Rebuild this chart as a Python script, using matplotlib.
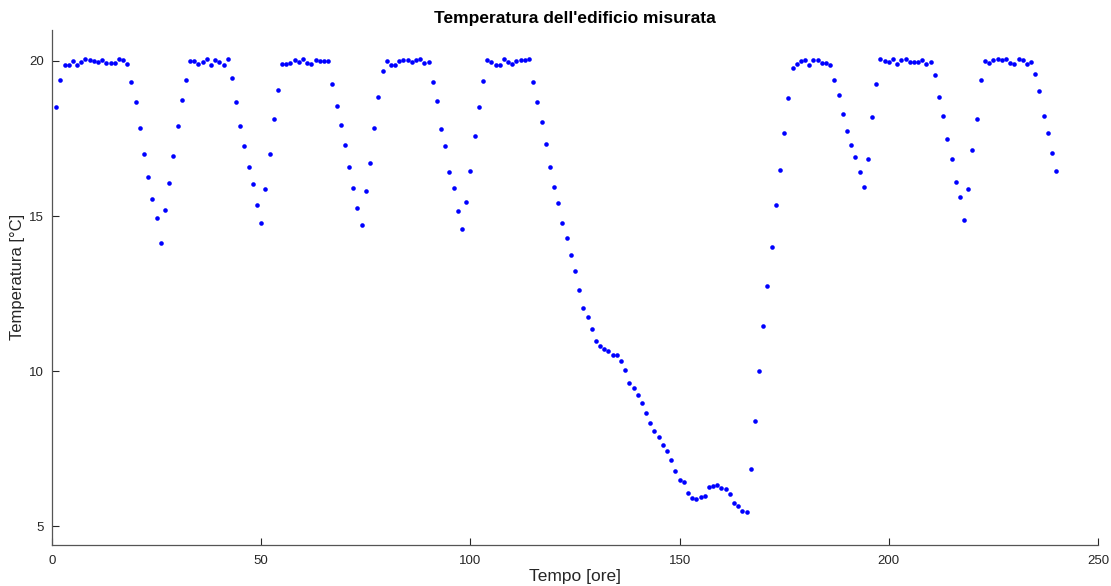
import matplotlib
matplotlib.use('Agg')
import matplotlib.pyplot as plt

# ore di misura (una ogni ora)
ore = list(range(1, 241))

# temperatura misurata [°C]
temperatura = [
    18.52, 19.40, 19.86, 19.86, 20.00, 19.87, 19.97, 20.07, 20.04, 20.00,
    19.97, 20.04, 19.94, 19.94, 19.94, 20.06, 20.04, 19.91, 19.33, 18.66,
    17.83, 16.99, 16.25, 15.54, 14.94, 14.13, 15.19, 16.08, 16.95, 17.91,
    18.74, 19.38, 19.99, 19.99, 19.89, 19.97, 20.07, 19.87, 20.03, 19.96,
    19.87, 20.06, 19.46, 18.66, 17.91, 17.27, 16.57, 16.02, 15.35, 14.77,
    15.88, 16.99, 18.14, 19.07, 19.91, 19.89, 19.94, 20.03, 19.98, 20.05,
    19.94, 19.90, 20.04, 20.01, 20.01, 20.00, 19.27, 18.55, 17.94, 17.29,
    16.57, 15.90, 15.27, 14.71, 15.82, 16.70, 17.85, 18.84, 19.67, 19.99,
    19.87, 19.88, 20.00, 20.02, 20.03, 19.97, 20.02, 20.06, 19.93, 19.97,
    19.33, 18.70, 17.79, 17.25, 16.42, 15.92, 15.15, 14.58, 15.45, 16.44,
    17.59, 18.50, 19.35, 20.04, 19.98, 19.88, 19.88, 20.05, 19.96, 19.91,
    20.00, 20.02, 20.03, 20.05, 19.33, 18.69, 18.02, 17.33, 16.58, 15.95,
    15.42, 14.77, 14.29, 13.76, 13.22, 12.61, 12.04, 11.74, 11.35, 10.96,
    10.82, 10.70, 10.65, 10.52, 10.53, 10.32, 10.05, 9.62, 9.45, 9.24,
    8.96, 8.65, 8.32, 8.07, 7.88, 7.62, 7.43, 7.15, 6.77, 6.51,
    6.42, 6.09, 5.92, 5.89, 5.95, 5.97, 6.26, 6.30, 6.32, 6.24,
    6.20, 6.03, 5.74, 5.67, 5.50, 5.45, 6.86, 8.41, 10.00, 11.47,
    12.74, 13.99, 15.36, 16.50, 17.67, 18.81, 19.78, 19.90, 19.99, 20.02,
    19.88, 20.03, 20.02, 19.94, 19.94, 19.88, 19.37, 18.91, 18.28, 17.74,
    17.28, 16.90, 16.42, 15.93, 16.85, 18.20, 19.27, 20.07, 19.99, 19.96,
    20.05, 19.90, 20.03, 20.07, 19.97, 19.96, 19.96, 20.04, 19.90, 19.96,
    19.54, 18.85, 18.21, 17.47, 16.83, 16.11, 15.61, 14.88, 15.88, 17.12,
    18.12, 19.37, 20.00, 19.94, 20.04, 20.05, 20.02, 20.06, 19.94, 19.89,
    20.07, 20.02, 19.89, 19.96, 19.59, 19.04, 18.24, 17.67, 17.02, 16.45,
]

xticks = [0, 50, 100, 150, 200, 250]
yticks = [5, 10, 15, 20]

plt.rcParams['font.family'] = ['Liberation Sans', 'DejaVu Sans']
grigio = '#262626'

fig = plt.figure(figsize=(11.11, 5.86), dpi=100)
ax = fig.add_axes([0.0468, 0.070, 0.9415, 0.879])

ax.plot(ore, temperatura, 'o', color='blue', ms=3.3, mec='none')

ax.set_xlim(0, 250)
ax.set_ylim(4.4, 21)
ax.set_xticks(xticks)
ax.set_yticks(yticks)
ax.tick_params(direction='in', length=5, width=0.8, colors=grigio,
               labelsize=9.5, labelcolor=grigio, pad=6)
ax.tick_params(axis='x', pad=7)

for s in ['top', 'right']:
    ax.spines[s].set_visible(False)
for s in ['left', 'bottom']:
    ax.spines[s].set_color('#555555')
    ax.spines[s].set_linewidth(0.9)

ax.set_xlabel('Tempo [ore]', fontsize=12.5, color=grigio, labelpad=2)
ax.set_ylabel('Temperatura [°C]', fontsize=12, color=grigio)
ax.yaxis.set_label_coords(-0.026, 0.52)
ax.set_title("Temperatura dell'edificio misurata", fontsize=12.5,
             fontweight='bold', color='black', pad=5)

fig.savefig('out.png', dpi=100)
